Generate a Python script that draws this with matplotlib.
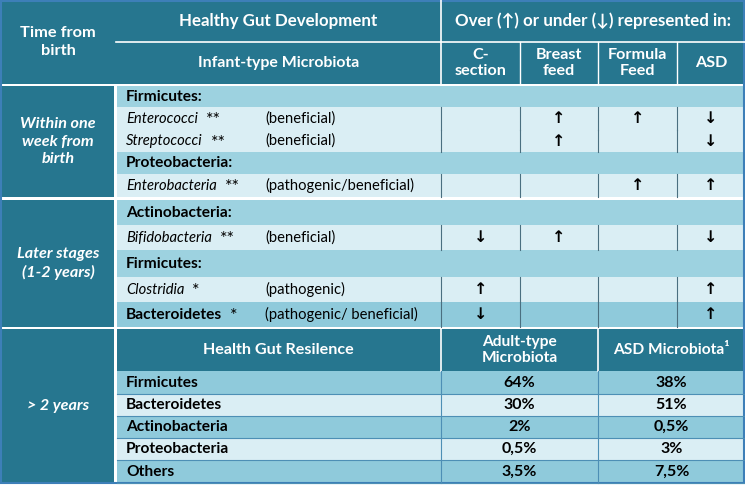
import matplotlib
matplotlib.use('Agg')
import matplotlib.pyplot as plt
from matplotlib.patches import Rectangle

FONT = ['Lato', 'DejaVu Sans']
plt.rcParams['font.family'] = FONT

# --- data ---
time_labels = ['Time from\nbirth', 'Within one\nweek from\nbirth', 'Later stages\n(1-2 years)', '> 2 years']
head_top = ['Healthy Gut Development', 'Over (↑) or under (↓) represented in:']
head_sub = ['Infant-type Microbiota']
group_cols = ['C-\nsection', 'Breast\nfeed', 'Formula\nFeed', 'ASD']

# rows of the two early sections: (kind, name, stars, role, arrows)
early_rows = [
    ('group', 'Firmicutes:', '', '', ['', '', '', '']),
    ('species', 'Enterococci', '**', '(beneficial)', ['', '↑', '↑', '↓']),
    ('species', 'Streptococci', '**', '(beneficial)', ['', '↑', '', '↓']),
    ('group', 'Proteobacteria:', '', '', ['', '', '', '']),
    ('species', 'Enterobacteria', '**', '(pathogenic/beneficial)', ['', '', '↑', '↑']),
    ('group', 'Actinobacteria:', '', '', ['', '', '', '']),
    ('species', 'Bifidobacteria', '**', '(beneficial)', ['↓', '↑', '', '↓']),
    ('group', 'Firmicutes:', '', '', ['', '', '', '']),
    ('species', 'Clostridia', '*', '(pathogenic)', ['↑', '', '', '↑']),
    ('phylum', 'Bacteroidetes', '*', '(pathogenic/ beneficial)', ['↓', '', '', '↑']),
]

resil_title = 'Health Gut Resilence'
resil_cols = ['Adult-type\nMicrobiota', 'ASD Microbiota¹']
phyla = ['Firmicutes', 'Bacteroidetes', 'Actinobacteria', 'Proteobacteria', 'Others']
adult_pct = ['64%', '30%', '2%', '0,5%', '3,5%']
asd_pct = ['38%', '51%', '0,5%', '3%', '7,5%']

# --- styling ---
DARK = '#26768f'
MED = '#9dd2e0'
MED2 = '#8fcadb'
LIGHT = '#daeef4'
BORDER = '#3d7fb8'
GRID = '#4a6f80'
BODY = 10.6     # plain body text
BOLD = 11.2     # bold body text
HEAD = 12.2     # header text

W, H = 745, 486
fig = plt.figure(figsize=(W / 100, H / 100), dpi=100)
ax = fig.add_axes([0, 0, 1, 1])
ax.set_xlim(0, W)
ax.set_ylim(H, 0)
ax.axis('off')

xc = [0, 116, 441, 520, 598, 677, 745]  # column edges
y_head = [0, 42, 84]
sec1 = [86, 107, 130, 152, 174, 197]
sec2 = [200, 225, 250, 277, 302, 327]
row_spans = list(zip(sec1[:-1], sec1[1:])) + list(zip(sec2[:-1], sec2[1:]))
y3 = [329, 371, 394, 416, 438, 460, 483]


def box(x0, y0, x1, y1, color):
    ax.add_patch(Rectangle((x0, y0), x1 - x0, y1 - y0, facecolor=color, edgecolor='none'))


def txt(x, y, s, size=BOLD, weight='bold', style='normal', color='black', ha='left', family=FONT, **kw):
    return ax.text(x, y, s, fontsize=size, fontweight=weight, fontstyle=style, color=color,
                   ha=ha, va='center', family=family, **kw)


# header
box(0, 0, W, y_head[2], DARK)
ax.plot([xc[1], W], [y_head[1], y_head[1]], color='white', lw=1.2)
ax.plot([xc[2], xc[2]], [0, y_head[2]], color='white', lw=1.2)
for x in xc[3:6]:
    ax.plot([x, x], [y_head[1], y_head[2]], color='white', lw=1.0)
txt(58, y_head[2] / 2, time_labels[0], size=11.8, color='white', ha='center', linespacing=1.45)
txt((xc[1] + xc[2]) / 2, 21, head_top[0], size=HEAD, color='white', ha='center')
txt((xc[2] + W) / 2, 21, head_top[1], size=HEAD, color='white', ha='center')
txt((xc[1] + xc[2]) / 2, 63, head_sub[0], size=11.4, color='white', ha='center')
for i, lab in enumerate(group_cols):
    txt((xc[2 + i] + xc[3 + i]) / 2, 63, lab, size=11.6, color='white', ha='center', linespacing=1.25)

# early sections
rend = fig.canvas.get_renderer()
for (kind, name, stars, role, arrows), (y0, y1) in zip(early_rows, row_spans):
    color = {'group': MED, 'species': LIGHT, 'phylum': MED2}[kind]
    box(xc[1] + 1, y0, W, y1, color)
    ym = (y0 + y1) / 2
    if kind == 'group':
        txt(126, ym, name)
        continue
    t = txt(126, ym, name, size=BOLD if kind == 'phylum' else BODY,
            weight='bold' if kind == 'phylum' else 'normal',
            style='normal' if kind == 'phylum' else 'italic')
    bb = t.get_window_extent(rend)
    txt(bb.x1 + 8, ym + 1.5, stars, size=13, weight='normal')
    txt(265, ym, role, size=BODY, weight='normal')
    for x in xc[2:6]:
        ax.plot([x, x], [y0, y1], color=GRID, lw=0.8)
    for j, a in enumerate(arrows):
        if a:
            txt((xc[2 + j] + xc[3 + j]) / 2, ym, a, size=11.5, weight='bold', ha='center',
                family=['DejaVu Sans'])

# left column for early sections
box(0, sec1[0], xc[1] - 2, sec1[-1], DARK)
box(0, sec2[0], xc[1] - 2, sec2[-1], DARK)
txt(58, (sec1[0] + sec1[-1]) / 2, time_labels[1], size=11.6, style='italic',
    color='white', ha='center', linespacing=1.35)
txt(58, (sec2[0] + sec2[-1]) / 2, time_labels[2], size=11.6, style='italic',
    color='white', ha='center', linespacing=1.3)

# resilience section
box(0, y3[0], xc[1] - 2, y3[-1], DARK)
box(xc[1] + 1, y3[0], W, y3[1], DARK)
txt(58, (y3[0] + y3[-1]) / 2, time_labels[3], size=11.6, style='italic', color='white', ha='center')
txt((xc[1] + xc[2]) / 2, (y3[0] + y3[1]) / 2, resil_title, size=11.6, color='white', ha='center')
ax.plot([xc[2], xc[2]], [y3[0], y3[1]], color='white', lw=1.2)
ax.plot([xc[4], xc[4]], [y3[0], y3[1]], color='white', lw=1.2)
txt((xc[2] + xc[4]) / 2, (y3[0] + y3[1]) / 2, resil_cols[0], color='white', ha='center',
    linespacing=1.25)
txt((xc[4] + W) / 2, (y3[0] + y3[1]) / 2, resil_cols[1], color='white', ha='center')
for k, ph in enumerate(phyla):
    y0, y1 = y3[k + 1], y3[k + 2]
    box(xc[1] + 1, y0, W, y1, MED2 if k % 2 == 0 else LIGHT)
    ym = (y0 + y1) / 2
    txt(126, ym, ph)
    txt((xc[2] + xc[4]) / 2, ym, adult_pct[k], size=11.5, ha='center')
    txt((xc[4] + W) / 2, ym, asd_pct[k], size=11.5, ha='center')
    ax.plot([xc[1] + 1, W], [y1, y1], color='#4d8fb5', lw=0.8)
for x in (xc[2], xc[4]):
    ax.plot([x, x], [y3[1], y3[-1]], color='#4d8fb5', lw=0.8)

# outer border
ax.add_patch(Rectangle((0.8, 0.8), W - 1.6, y3[-1] - 0.8, facecolor='none', edgecolor=BORDER, lw=1.5))

fig.savefig('out.png', dpi=100)
